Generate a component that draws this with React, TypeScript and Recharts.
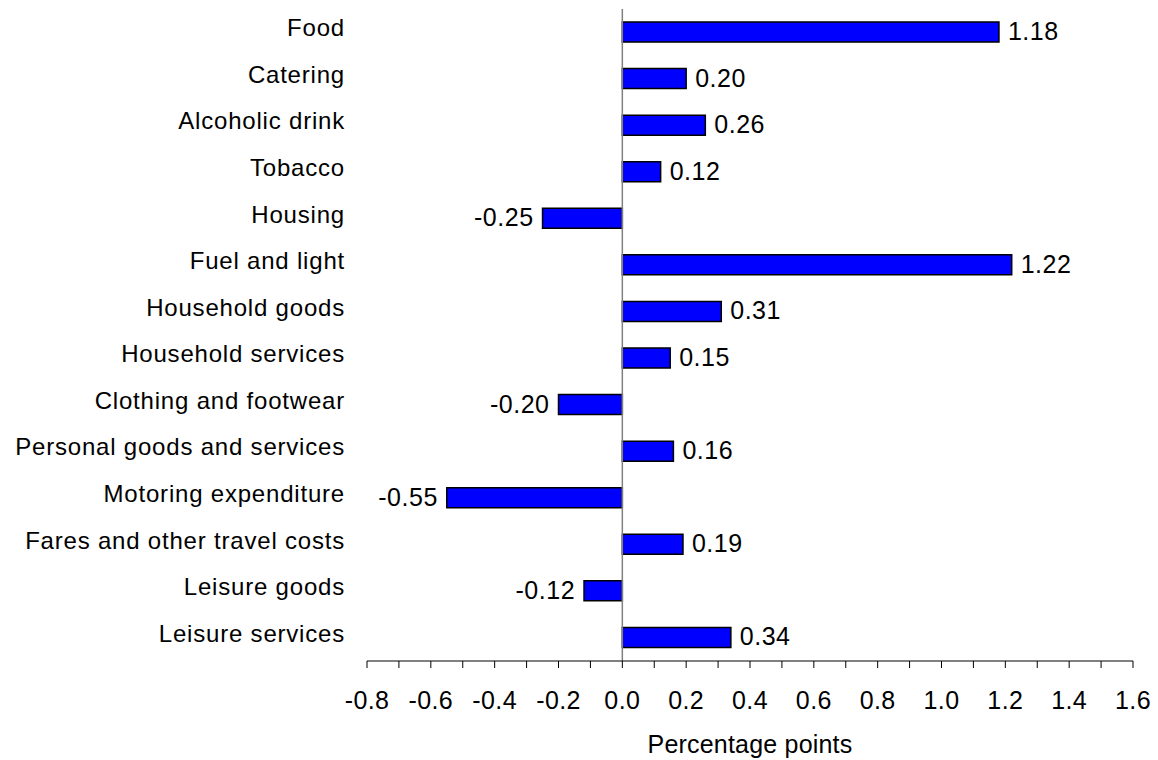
import React from 'react';
import { BarChart, Bar, XAxis, YAxis, ReferenceLine, LabelList } from 'recharts';

const categories = [
  'Food',
  'Catering',
  'Alcoholic drink',
  'Tobacco',
  'Housing',
  'Fuel and light',
  'Household goods',
  'Household services',
  'Clothing and footwear',
  'Personal goods and services',
  'Motoring expenditure',
  'Fares and other travel costs',
  'Leisure goods',
  'Leisure services',
];

const contributions = [1.18, 0.2, 0.26, 0.12, -0.25, 1.22, 0.31, 0.15, -0.2, 0.16, -0.55, 0.19, -0.12, 0.34];

const xTicks = [
  -0.8, -0.7, -0.6, -0.5, -0.4, -0.3, -0.2, -0.1, 0, 0.1, 0.2, 0.3, 0.4, 0.5, 0.6, 0.7, 0.8, 0.9, 1.0, 1.1, 1.2,
  1.3, 1.4, 1.5, 1.6,
];

const FONT = '"Liberation Sans", Arial, sans-serif';

const chartData = categories.map((name, i) => ({ name, value: contributions[i] }));

const CategoryTick = ({ x, y, payload }: any) => (
  <text x={x} y={y + 4} textAnchor="end" fontSize={24} letterSpacing={0.8} fontFamily={FONT} fill="#000">
    {payload.value}
  </text>
);

const ValueLabel = ({ x, y, width, height, value }: any) => {
  const left = Math.min(x, x + width);
  const right = Math.max(x, x + width);
  const pos = value >= 0;
  return (
    <text
      x={pos ? right + 9 : left - 9}
      y={y + height / 2 + 8}
      textAnchor={pos ? 'start' : 'end'}
      fontSize={25}
      letterSpacing={0.5}
      fontFamily={FONT}
      fill="#000"
    >
      {value.toFixed(2)}
    </text>
  );
};

const formatTick = (v: number) => (Math.round(v * 10) % 2 === 0 ? v.toFixed(1) : '');

export default function App() {
  return (
    <div style={{ position: 'absolute', left: 0, top: 0, width: 1158, height: 760, background: '#fff' }}>
      <BarChart
        width={1158}
        height={760}
        data={chartData}
        layout="vertical"
        margin={{ top: 9, right: 25, left: 0, bottom: 0 }}
        barSize={20}
      >
        <XAxis
          type="number"
          domain={[-0.8, 1.6]}
          ticks={xTicks}
          interval={0}
          tickFormatter={formatTick}
          stroke="#000"
          tickSize={7}
          tickMargin={23}
          height={99}
          tick={{ fill: '#000', fontSize: 25, fontFamily: FONT, letterSpacing: 0.4 }}
          label={{
            value: 'Percentage points',
            position: 'insideBottom',
            offset: 7,
            fill: '#000',
            fontSize: 25,
            fontFamily: FONT,
            letterSpacing: 0.2,
          }}
        />
        <YAxis
          type="category"
          dataKey="name"
          width={367}
          axisLine={false}
          tickLine={false}
          tickSize={0}
          tickMargin={22}
          interval={0}
          tick={<CategoryTick />}
        />
        <ReferenceLine x={0} stroke="#808080" strokeWidth={1.5} />
        <Bar dataKey="value" fill="#0000FF" stroke="#000" strokeWidth={1.5} isAnimationActive={false}>
          <LabelList dataKey="value" content={<ValueLabel />} />
        </Bar>
      </BarChart>
    </div>
  );
}
